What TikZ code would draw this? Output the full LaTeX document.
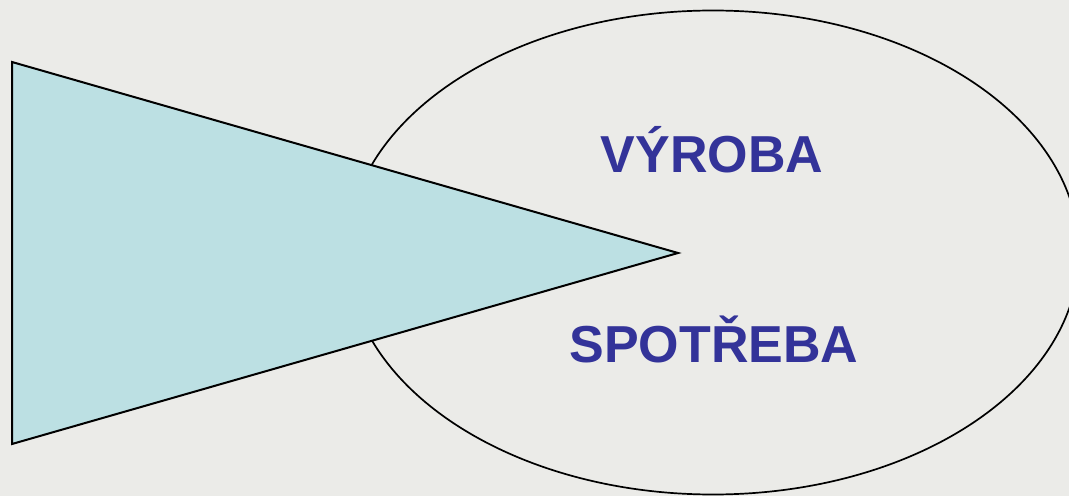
\documentclass[tikz,border=0pt]{standalone}
\usepackage{fontspec}
\setmainfont{Liberation Sans}
\definecolor{bgcol}{RGB}{235,235,232}
\definecolor{tricol}{RGB}{188,224,227}
\definecolor{txtcol}{RGB}{51,51,153}
\tikzset{
  outline/.style={draw=black, line width=2pt},
  label/.style={text=txtcol, font=\bfseries\fontsize{52}{52}\selectfont, anchor=base, inner sep=0pt}
}
\begin{document}
\begin{tikzpicture}[x=1pt,y=1pt]
\fill[bgcol] (0,0) rectangle (1069,496);
\useasboundingbox (0,0) rectangle (1069,496);
% ellipse
\draw[outline, line width=1.7pt] (713,243.5) ellipse [x radius=366, y radius=242];
% triangle
\filldraw[outline, fill=tricol] (12,434) coordinate (t1) -- (12,52) coordinate (t2) -- (678,243) coordinate (t3) -- cycle;
% labels
\node[label] (vyroba) at (712,323) {VÝROBA};
\node[label] (spotreba) at (714,133) {SPOTŘEBA};
\end{tikzpicture}
\end{document}
